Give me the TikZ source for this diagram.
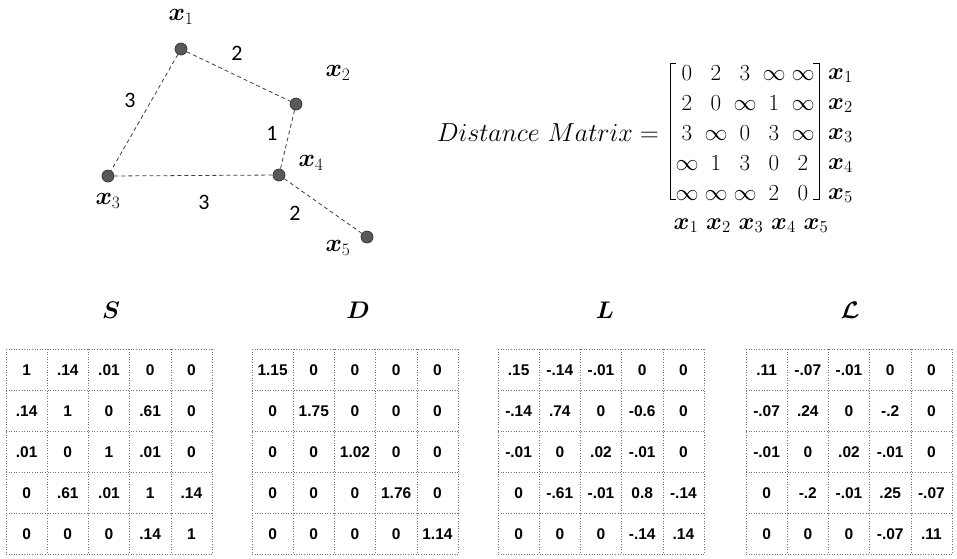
\RequirePackage{fix-cm}
\documentclass[tikz,border=0pt]{standalone}
\usepackage{fontspec}
\usepackage{amsmath,bm}
\newfontfamily\numfont{Liberation Sans}
\newfontfamily\lblfont{Carlito}
\usetikzlibrary{calc}
\tikzset{
  vtx/.style={circle,draw=black!80,fill=black!65,line width=0.7pt,minimum size=12pt,inner sep=0pt},
  edge/.style={dashed,dash pattern=on 4pt off 3pt,draw=black!75,line width=0.8pt},
  xlab/.style={font=\fontsize{25}{30}\selectfont,inner sep=0pt},
  wlab/.style={font=\lblfont\fontsize{22}{26}\selectfont,inner sep=0pt},
  ment/.style={font=\fontsize{23}{28}\selectfont,inner sep=0pt,anchor=base},
  mlab/.style={font=\fontsize{24}{28}\selectfont,inner sep=0pt},
  num/.style={font=\numfont\bfseries\fontsize{15.5}{18}\selectfont,inner sep=0pt},
  gridline/.style={draw=black!55,dotted,line width=0.6pt},
  ttl/.style={font=\fontsize{24}{28}\selectfont,inner sep=0pt},
}
\newcommand\mytable[3]{%
  \foreach \i in {0,...,5}{%
    \draw[gridline] ({#2+\i*41.2},349) -- ({#2+\i*41.2},554);
    \draw[gridline] (#2,{349+\i*41}) -- ({#2+206},{349+\i*41});
  }
  \foreach \row [count=\r] in {#3}{%
    \foreach \v [count=\c] in \row{%
      \node[num] (#1-\r-\c) at ({#2+(\c-0.5)*41.2},{349+(\r-0.5)*41+1}) {\v};
    }
  }
}
\begin{document}
\begin{tikzpicture}[x=1pt,y=-1pt]
\useasboundingbox (0,0) rectangle (957,558);
% graph
\node[vtx] (n1) at (181,49) {};
\node[vtx] (n2) at (296,104) {};
\node[vtx] (n3) at (108,176) {};
\node[vtx] (n4) at (279,175) {};
\node[vtx] (n5) at (367,237) {};
\draw[edge] (n1) -- (n2);
\draw[edge] (n1) -- (n3);
\draw[edge] (n2) -- (n4);
\draw[edge] (n3) -- (n4);
\draw[edge] (n4) -- (n5);
\node[xlab] (l1) at (181,17) {$\bm{x}_1$};
\node[xlab] (l2) at (338,73) {$\bm{x}_2$};
\node[xlab] (l3) at (108,201) {$\bm{x}_3$};
\node[xlab] (l4) at (311,163) {$\bm{x}_4$};
\node[xlab] (l5) at (338,248) {$\bm{x}_5$};
\node[wlab] (w12) at (237,53) {2};
\node[wlab] (w13) at (130,100) {3};
\node[wlab] (w24) at (272,133) {1};
\node[wlab] (w34) at (204,202) {3};
\node[wlab] (w45) at (295,213) {2};
% distance matrix
\node[font=\fontsize{26}{30}\selectfont,inner sep=0pt,anchor=base east] (dm) at (659,141) {$Distance\ Matrix =$};
\foreach \row [count=\r] in {{0,2,3,\infty,\infty},{2,0,\infty,1,\infty},{3,\infty,0,3,\infty},{\infty,1,3,0,2},{\infty,\infty,\infty,2,0}}{%
  \foreach \v [count=\c] in \row{%
    \node[ment] (m-\r-\c) at ({687+(\c-1)*29},{80+(\r-1)*30}) {$\v$};
  }
}
\draw[line width=0.9pt] (676,63) -- (670,63) -- (670,199) -- (676,199);
\draw[line width=0.9pt] (813,63) -- (819,63) -- (819,199) -- (813,199);
\foreach \r in {1,...,5}{%
  \node[mlab,anchor=base west] (rl-\r) at (828,{79+(\r-1)*30}) {$\bm{x}_{\r}$};
  \node[mlab,anchor=base] (cl-\r) at ({686+(\r-1)*32.5},229) {$\bm{x}_{\r}$};
}
% titles
\node[ttl] (tS) at (111,310) {$\bm{S}$};
\node[ttl] (tD) at (358,310) {$\bm{D}$};
\node[ttl] (tL) at (605,310) {$\bm{L}$};
\node[ttl] (tLL) at (850,310) {$\bm{\mathcal{L}}$};
% tables
\mytable{S}{6}{{1,.14,.01,0,0},{.14,1,0,.61,0},{.01,0,1,.01,0},{0,.61,.01,1,.14},{0,0,0,.14,1}}
\mytable{D}{252}{{1.15,0,0,0,0},{0,1.75,0,0,0},{0,0,1.02,0,0},{0,0,0,1.76,0},{0,0,0,0,1.14}}
\mytable{L}{498}{{.15,-.14,-.01,0,0},{-.14,.74,0,-0.6,0},{-.01,0,.02,-.01,0},{0,-.61,-.01,0.8,-.14},{0,0,0,-.14,.14}}
\mytable{N}{746}{{.11,-.07,-.01,0,0},{-.07,.24,0,-.2,0},{-.01,0,.02,-.01,0},{0,-.2,-.01,.25,-.07},{0,0,0,-.07,.11}}
\end{tikzpicture}
\end{document}
